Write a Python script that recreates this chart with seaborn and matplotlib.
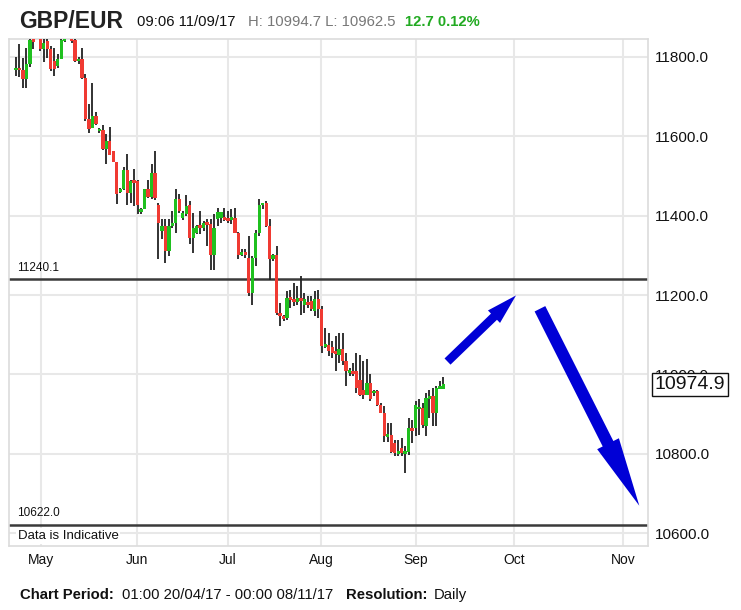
import numpy as np
import pandas as pd
import matplotlib
matplotlib.use("Agg")
import matplotlib.pyplot as plt
import seaborn as sns

# Daily GBP/EUR candles (x100), 20/04/17 - 11/09/17
opens = [11766, 11773, 11766, 11744, 11781, 11842, 11850, 11855, 11819, 11840,
         11819, 11790, 11776, 11794, 11842, 11850, 11846, 11842, 11790, 11794,
         11748, 11643, 11622, 11651, 11615, 11617, 11567, 11588, 11563, 11536,
         11461, 11466, 11514, 11458, 11487, 11487, 11412, 11416, 11466, 11447,
         11508, 11428, 11361, 11374, 11311, 11374, 11382, 11443, 11395, 11405,
         11428, 11344, 11357, 11374, 11370, 11382, 11378, 11302, 11391, 11395,
         11395, 11392, 11390, 11395, 11357, 11302, 11306, 11294, 11206, 11294,
         11357, 11428, 11431, 11374, 11290, 11302, 11155, 11147, 11143, 11193,
         11189, 11183, 11190, 11176, 11180, 11185, 11159, 11189, 11164, 11071,
         11075, 11069, 11058, 11050, 11063, 11033, 11006, 11010, 11008, 10987,
         10962, 10949, 10979, 10954, 10958, 10924, 10903, 10844, 10848, 10827,
         10802, 10815, 10802, 10806, 10865, 10865, 10913, 10915, 10869, 10941,
         10945, 10903, 10966, 10962.5]
highs = [11800, 11832, 11796, 11822, 11855, 11855, 11870, 11860, 11845, 11845,
         11828, 11823, 11807, 11848, 11850, 11870, 11850, 11850, 11800, 11823,
         11758, 11681, 11733, 11660, 11622, 11628, 11605, 11623, 11563, 11536,
         11470, 11522, 11555, 11491, 11518, 11491, 11420, 11468, 11491, 11529,
         11563, 11433, 11391, 11391, 11391, 11412, 11466, 11454, 11412, 11451,
         11437, 11407, 11376, 11412, 11386, 11391, 11391, 11403, 11420, 11408,
         11420, 11412, 11416, 11420, 11360, 11315, 11315, 11348, 11298, 11365,
         11441, 11433, 11437, 11391, 11304, 11323, 11180, 11151, 11210, 11214,
         11231, 11222, 11249, 11206, 11197, 11197, 11210, 11214, 11172, 11117,
         11105, 11084, 11096, 11105, 11105, 11054, 11017, 11029, 11054, 11050,
         11033, 11038, 11000, 10962, 10962, 10928, 10920, 10878, 10878, 10836,
         10836, 10840, 10819, 10890, 10886, 10932, 10937, 10928, 10953, 10962,
         10966, 10970, 10983, 10994.7]
lows = [11752, 11750, 11722, 11722, 11775, 11819, 11848, 11815, 11786, 11798,
        11765, 11752, 11773, 11794, 11838, 11848, 11836, 11786, 11781, 11744,
        11639, 11609, 11620, 11628, 11609, 11565, 11529, 11553, 11534, 11430,
        11457, 11464, 11428, 11432, 11425, 11403, 11403, 11416, 11445, 11441,
        11440, 11290, 11340, 11281, 11298, 11370, 11357, 11407, 11390, 11399,
        11328, 11307, 11355, 11353, 11361, 11323, 11264, 11264, 11374, 11382,
        11386, 11382, 11378, 11357, 11290, 11298, 11294, 11197, 11176, 11273,
        11349, 11416, 11372, 11239, 11285, 11151, 11121, 11134, 11138, 11168,
        11172, 11176, 11151, 11155, 11168, 11159, 11147, 11143, 11054, 11067,
        11046, 11042, 11008, 11029, 11025, 10970, 10995, 10995, 10953, 10945,
        10937, 10949, 10932, 10945, 10920, 10903, 10831, 10831, 10802, 10794,
        10794, 10794, 10752, 10798, 10827, 10844, 10848, 10865, 10844, 10890,
        10869, 10869, 10966, 10962.5]
closes = [11773, 11766, 11744, 11781, 11842, 11840, 11860, 11819, 11836, 11819,
          11769, 11770, 11794, 11842, 11846, 11860, 11840, 11790, 11794, 11748,
          11643, 11619, 11651, 11630, 11617, 11567, 11588, 11554, 11536, 11455,
          11467, 11514, 11458, 11487, 11485, 11428, 11416, 11466, 11447, 11508,
          11445, 11382, 11374, 11311, 11374, 11382, 11443, 11412, 11407, 11424,
          11344, 11370, 11374, 11370, 11382, 11378, 11302, 11370, 11408, 11408,
          11392, 11388, 11395, 11357, 11302, 11306, 11302, 11206, 11294, 11357,
          11428, 11431, 11374, 11290, 11302, 11155, 11147, 11140, 11193, 11189,
          11183, 11193, 11186, 11189, 11176, 11164, 11189, 11164, 11071, 11075,
          11058, 11054, 11054, 11063, 11033, 11008, 11010, 11002, 10966, 10949,
          10949, 10979, 10937, 10958, 10924, 10903, 10844, 10850, 10806, 10802,
          10806, 10802, 10806, 10865, 10858, 10924, 10918, 10874, 10941, 10945,
          10903, 10966, 10970, 10974.9]

month_labels = ["May", "Jun", "Jul", "Aug", "Sep", "Oct", "Nov"]
month_pos = [7.2, 34.8, 61.0, 87.8, 115.1, 143.4, 174.8]
price_ticks = [10600, 10800, 11000, 11200, 11400, 11600, 11800]
levels = [11240.1, 10622.0]
last_price = 10974.9
arrow_tails = [(124.2, 11032.6), (150.8, 11165.5)]
arrow_tips = [(143.9, 11199.0), (179.4, 10669.4)]

df = pd.DataFrame({"open": opens, "high": highs, "low": lows, "close": closes})
df["idx"] = np.arange(len(df))
df["color"] = np.where(df["close"] >= df["open"], "#1fc01f", "#f03a32")
body = (df["close"] - df["open"]).abs()
df["height"] = np.maximum(body, 7)
df["bottom"] = np.where(body < 7, (df["open"] + df["close"]) / 2 - 3.5,
                        df[["open", "close"]].min(axis=1))

sns.set_theme(style="white")
plt.rcParams["font.family"] = ["Liberation Sans", "DejaVu Sans"]

W, H = 741, 610
fig = plt.figure(figsize=(W / 100, H / 100), dpi=100)
ax = fig.add_axes([8.5 / W, 1 - 546 / H, (648 - 8.5) / W, (546 - 39) / H])

# candles
ax.vlines(df["idx"], df["low"], df["high"], color="#222222", lw=1.3, zorder=3)
ax.bar(df["idx"], df["height"], bottom=df["bottom"], width=0.95,
       color=df["color"], linewidth=0, zorder=4)

ax.set_xlim(-2.16, 181.9)
ax.set_ylim(10568, 11845)

ax.set_xticks(month_pos)
ax.set_xticklabels(month_labels)
ax.yaxis.tick_right()
ax.set_yticks(price_ticks)
ax.set_yticklabels([f"{v:.1f}" for v in price_ticks])
ax.tick_params(axis="y", length=0, pad=5, labelsize=11, colors="#111111")
ax.tick_params(axis="x", length=0, pad=5, labelsize=10, colors="#111111")
ax.grid(True, color="#e8e8e8", lw=1.5, zorder=0)
for s in ax.spines.values():
    s.set_color("#dcdcdc")
    s.set_linewidth(1.2)

# horizontal levels
ytr = ax.get_yaxis_transform()
for lv in levels:
    ax.axhline(lv, color="#3a3a3a", lw=1.8, zorder=2)
    ax.annotate(f"{lv:.1f}", xy=(0, lv), xycoords=ytr, xytext=(6.5, 4),
                textcoords="offset points", fontsize=8.5, va="bottom",
                color="#111111")

ax.annotate("Data is Indicative", xy=(0, 0), xycoords="axes fraction",
            xytext=(6.5, 3), textcoords="offset points", fontsize=9.5,
            va="bottom", color="#111111",
            bbox=dict(boxstyle="square,pad=0.15", fc="white", ec="none"))

# last price box (covers the 11000.0 tick label as in the original)
ax.annotate(f"{last_price:.1f}", xy=(1, last_price), xycoords=ytr,
            xytext=(5, 0), textcoords="offset points", fontsize=14,
            va="center", ha="left", color="#111111", annotation_clip=False,
            zorder=10,
            bbox=dict(boxstyle="square,pad=0.14", fc="white", ec="#111111", lw=1))

# blue forecast arrows
styles = ["simple,head_length=2.2,head_width=1.25,tail_width=0.62",
          "simple,head_length=5.0,head_width=1.75,tail_width=0.86"]
for tail, tip, st in zip(arrow_tails, arrow_tips, styles):
    ax.annotate("", xy=tip, xytext=tail,
                arrowprops=dict(arrowstyle=st, mutation_scale=10, color="#0000d6",
                                lw=0, shrinkA=0, shrinkB=0), zorder=6)

# header
yh = 1 - 22 / H
fig.text(19 / W, yh, "GBP/EUR", fontsize=16.5, fontweight="bold", va="center", color="#222222")
fig.text(137 / W, yh, "09:06 11/09/17", fontsize=10.7, va="center", color="#111111")
fig.text(248 / W, yh, "H: 10994.7 L: 10962.5", fontsize=10.7, va="center", color="#777777")
fig.text(405 / W, yh, "12.7 0.12%", fontsize=10.7, fontweight="bold", va="center", color="#22aa22")

# footer
yf = 1 - 595 / H
fig.text(20 / W, yf, "Chart Period:", fontsize=10.7, fontweight="bold", va="center", color="#111111")
fig.text(122 / W, yf, "01:00 20/04/17 - 00:00 08/11/17", fontsize=10.7, va="center", color="#111111")
fig.text(346 / W, yf, "Resolution:", fontsize=10.7, fontweight="bold", va="center", color="#111111")
fig.text(434 / W, yf, "Daily", fontsize=10.7, va="center", color="#111111")

fig.savefig("out.png", dpi=100, facecolor="white")
